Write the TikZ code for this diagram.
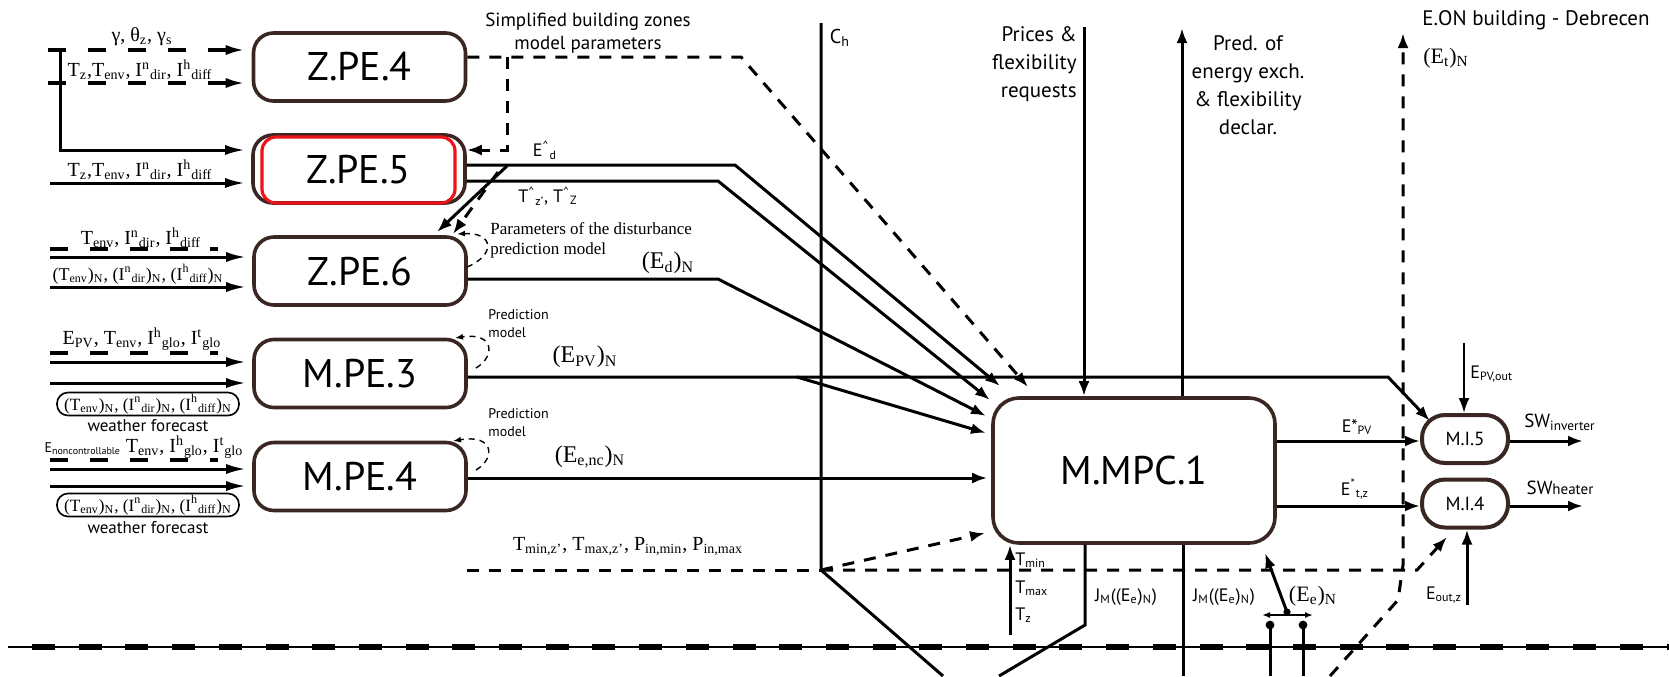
\documentclass[tikz,border=0pt]{standalone}
\usepackage{fontspec}
\setmainfont{Liberation Serif}
\setsansfont{PT Sans}
\usetikzlibrary{arrows.meta}
\definecolor{boxbrown}{RGB}{58,38,34}
\definecolor{hlred}{RGB}{235,20,25}
\newcommand\sbs[1]{\textsubscript{#1}}
\newcommand\sps[1]{\textsuperscript{#1}}
\newcommand\fsz[2]{\fontsize{#1}{#2}\selectfont}
\begin{document}
\begin{tikzpicture}[x=0.5pt,y=-0.5pt,
  blk/.style={draw=boxbrown, fill=white, line width=1.8pt, rounded corners=10pt,
    minimum width=106pt, minimum height=34pt, inner sep=0pt, font=\sffamily\fsz{20}{24}},
  hilite/.style={draw=hlred, line width=1.6pt, rounded corners=7pt,
    minimum width=96.5pt, minimum height=33pt, inner sep=0pt, font=\sffamily\fsz{20}{24}},
  pill/.style={draw=boxbrown, fill=white, line width=2pt, rounded corners=11.5pt,
    minimum width=43pt, minimum height=24pt, inner sep=0pt, font=\sffamily\fsz{9.5}{11}},
  wire/.style={line width=1.5pt},
  arr/.style={wire, -{Latex[length=7.5pt,width=5.5pt]}},
  inarr/.style={wire, -{Latex[length=10pt,width=5pt]}, shorten >=3pt},
  dwire/.style={line width=1.5pt, dash pattern=on 6pt off 5pt},
  darr/.style={dwire, -{Latex[length=7.5pt,width=5.5pt]}},
  indash/.style={line width=1.8pt, dash pattern=on 9pt off 11pt},
  indarr/.style={indash, -{Latex[length=10pt,width=5pt]}, shorten >=3pt},
  loopd/.style={line width=0.7pt, dash pattern=on 3pt off 2.5pt, -{Latex[length=4pt,width=3pt]}},
  lblser/.style={inner sep=0pt, font=\fsz{10}{12}},
  lblsans/.style={inner sep=0pt, font=\sffamily\fsz{9}{11}},
  wfbox/.style={draw, line width=0.8pt, rounded corners=5.5pt, minimum width=91pt,
    minimum height=11.5pt, inner sep=0pt, font=\fsz{8.6}{10}},
  wftext/.style={inner sep=0pt, font=\sffamily\fsz{8.5}{10}}
]
\useasboundingbox (0,0) rectangle (1669,676);
\fill[white] (0,0) rectangle (1669,676);

% ---------- processing blocks ----------
\node[blk] (zpe4) at (359.5,67) {Z.PE.4};
\node[blk] (zpe5) at (359,169) {};
\node[hilite] (zpe5mark) at (358.5,170) {Z.PE.5};
\node[blk] (zpe6) at (360,271) {Z.PE.6};
\node[blk] (mpe3) at (360,373.5) {M.PE.3};
\node[blk] (mpe4) at (360,476.5) {M.PE.4};
\node[blk, minimum width=141pt, minimum height=72.5pt, rounded corners=13pt] (mpc) at (1134,470.5) {M.MPC.1};
\node[pill] (mi5) at (1465,439) {M.I.5};
\node[pill] (mi4) at (1465,503.5) {M.I.4};

% ---------- inputs on the left ----------
\coordinate (s1) at (48,50);
\coordinate (s2) at (48,83);
\draw[indarr] (s1) -- (s1 -| zpe4.west);
\draw[indarr] (s2) -- (s2 -| zpe4.west);
\node[lblser] (l1) at (142,37) {γ, θ\sbs{z}, γ\sbs{s}};
\node[lblser] (l2) at (140,70) {T\sbs{z},T\sbs{env}, I\sps{n}\sbs{dir}, I\sps{h}\sbs{diff}};

\coordinate (v3a) at (60,52);
\coordinate (v3b) at (60,150);
\draw[inarr] (v3a) -- (v3b) -- (v3b -| zpe5.west);
\coordinate (s4) at (50,183);
\draw[inarr] (s4) -- (s4 -| zpe5.west);
\node[lblser] (l4) at (140,170) {T\sbs{z},T\sbs{env}, I\sps{n}\sbs{dir}, I\sps{h}\sbs{diff}};

% Z.PE.6 inputs
\coordinate (d6a) at (50,249); \coordinate (d6b) at (218,249);
\draw[indash] (d6a) -- (d6b);
\node[lblser] (l6a) at (141,238) {T\sbs{env}, I\sps{n}\sbs{dir}, I\sps{h}\sbs{diff}};
\coordinate (s6a) at (50,257);
\draw[inarr] (s6a) -- (s6a -| zpe6.west);
\node[lblser, font=\fsz{9}{11}] (l6b) at (138,274) {(T\sbs{env})\sbs{N}, (I\sps{n}\sbs{dir})\sbs{N}, (I\sps{h}\sbs{diff})\sbs{N}};
\coordinate (s6b) at (50,287);
\draw[inarr] (s6b) -- (s6b -| zpe6.west);

% M.PE.3 inputs
\node[lblser] (l3a) at (142,339) {E\sbs{PV}, T\sbs{env}, I\sps{h}\sbs{glo}, I\sps{t}\sbs{glo}};
\coordinate (d3a) at (50,353); \coordinate (d3b) at (218,353);
\draw[indash] (d3a) -- (d3b);
\coordinate (s3a) at (50,362);
\draw[inarr] (s3a) -- (s3a -| mpe3.west);
\coordinate (s3b) at (50,383);
\draw[inarr] (s3b) -- (s3b -| mpe3.west);
\node[wfbox] (wf3) at (148,404) {(T\sbs{env})\sbs{N}, (I\sps{n}\sbs{dir})\sbs{N}, (I\sps{h}\sbs{diff})\sbs{N}};
\node[wftext] (wf3t) at (148,426) {weather forecast};

% M.PE.4 inputs
\node[lblser] (l4a) at (144,447) {{\sffamily\fsz{7}{8}E\sbs{noncontrollable}} T\sbs{env}, I\sps{h}\sbs{glo}, I\sps{t}\sbs{glo}};
\coordinate (d4a) at (50,460); \coordinate (d4b) at (218,460);
\draw[indash] (d4a) -- (d4b);
\coordinate (s4a) at (50,469);
\draw[inarr] (s4a) -- (s4a -| mpe4.west);
\coordinate (s4b) at (50,486);
\draw[inarr] (s4b) -- (s4b -| mpe4.west);
\node[wfbox] (wf4) at (148,505) {(T\sbs{env})\sbs{N}, (I\sps{n}\sbs{dir})\sbs{N}, (I\sps{h}\sbs{diff})\sbs{N}};
\node[wftext] (wf4t) at (148,528) {weather forecast};

% ---------- model parameters from Z.PE.4 ----------
\node[lblsans, align=center, font=\sffamily\fsz{9.5}{11.5}] (simp) at (588,33) {Simplified building zones\\model parameters};
\coordinate (p4a) at (741,57);
\coordinate (p4t) at (1028,387);
\draw[darr] (p4a -| zpe4.east) -- (p4a) -- (p4t);
\coordinate (br1) at (507,57);
\coordinate (br2) at (507,150);
\draw[darr] (br1) -- (br2) -- (br2 -| zpe5.east);

% ---------- Z.PE.5 outputs ----------
\coordinate (ed1) at (735,165);
\coordinate (edt) at (1000,386);
\draw[arr] (ed1 -| zpe5.east) -- (ed1) -- (edt);
\node[lblsans] (edl) at (545,150) {E\sps{\^{}}\sbs{d}};
\coordinate (tz1) at (718,181);
\coordinate (tzt) at (990,400);
\draw[arr] (tz1 -| zpe5.east) -- (tz1) -- (tzt);
\node[lblsans] (tzl) at (548,196) {T\sps{\^{}}\sbs{z'}, T\sps{\^{}}\sbs{Z}};

% feedback to Z.PE.6
\coordinate (fb1) at (507,166); \coordinate (fb1t) at (437,232);
\coordinate (fb2) at (498,172); \coordinate (fb2t) at (453,234);
\draw[arr] (fb1) -- (fb1t);
\draw[darr] (fb2) -- (fb2t);
\node[inner sep=0pt, anchor=west, align=left, font=\fsz{8.5}{10}] (parl) at (490,240) {Parameters of the disturbance\\prediction model};
\draw[loopd] (467,267) .. controls (496,255) and (494,232) .. (457,234);

% ---------- Z.PE.6 output ----------
\coordinate (dn1) at (718,279);
\coordinate (dnt) at (986,416);
\draw[arr] (dn1 -| zpe6.east) -- (dn1) -- (dnt);
\node[lblser, font=\fsz{12}{14}] (dnl) at (668,263) {(E\sbs{d})\sbs{N}};

% ---------- M.PE.3 output ----------
\node[lblsans, align=left, anchor=west, font=\sffamily\fsz{7}{9}] (pm3) at (488,324) {Prediction\\model};
\draw[loopd] (476,368) .. controls (496,356) and (494,332) .. (455,338);
\coordinate (pv1) at (1388,377);
\coordinate (pvt) at (1430,421);
\draw[arr] (pv1 -| mpe3.east) -- (pv1) -- (pvt);
\coordinate (pvb) at (797,377);
\coordinate (pvbt) at (986,433);
\draw[arr] (pvb) -- (pvbt);
\node[lblser, font=\fsz{12}{14}] (pvl) at (585,357) {(E\sbs{PV})\sbs{N}};

% ---------- M.PE.4 output ----------
\node[lblsans, align=left, anchor=west, font=\sffamily\fsz{7}{9}] (pm4) at (488,423) {Prediction\\model};
\draw[loopd] (476,470) .. controls (496,458) and (494,434) .. (453,441);
\coordinate (nc) at (700,478);
\draw[arr, shorten >=2pt] (nc -| mpe4.east) -- (nc -| mpc.west);
\node[lblser, font=\fsz{12}{14}] (ncl) at (590,457) {(E\sbs{e,nc})\sbs{N}};

% ---------- comfort limits and C_h ----------
\coordinate (ch1) at (821,23);
\coordinate (ch2) at (821,570);
\coordinate (ch3) at (943,676);
\draw[wire] (ch1) -- (ch2) -- (ch3);
\node[lblsans, font=\sffamily\fsz{10}{12}] (chl) at (840,38) {C\sbs{h}};
\coordinate (tm0) at (467,570);
\coordinate (tmt) at (985,533);
\coordinate (tmr) at (1417,570);
\coordinate (tmr2) at (1447,537);
\draw[dwire] (tm0) -- (ch2);
\draw[darr] (ch2) -- (tmt);
\draw[darr] (ch2) -- (tmr) -- (tmr2);
\node[lblser] (tml) at (628,547) {T\sbs{min,z'}, T\sbs{max,z'}, P\sbs{in,min}, P\sbs{in,max}};

% ---------- aggregator side ----------
\coordinate (pr) at (1084,27);
\draw[arr] (pr) -- (pr |- mpc.north);
\node[inner sep=0pt, anchor=east, align=right, font=\sffamily\fsz{10.5}{14}] (prl) at (1077,64) {Prices \&\\flexibility\\requests};
\coordinate (pd) at (1182,28);
\draw[arr] (pd |- mpc.north) -- (pd);
\node[inner sep=0pt, align=center, font=\sffamily\fsz{10.5}{14}] (pdl) at (1248,85) {Pred. of\\energy exch.\\\& flexibility\\declar.};
\coordinate (et0) at (1330,676);
\coordinate (et1) at (1398,600);
\coordinate (et2) at (1403,565);
\coordinate (et3) at (1403,33);
\draw[darr] (et0) -- (et1) -- (et2) -- (et3);
\node[lblser, font=\fsz{11}{13}] (etl) at (1446,58) {(E\sbs{t})\sbs{N}};
\node[inner sep=0pt, font=\sffamily\fsz{10.5}{12}] (eon) at (1536,20) {E.ON building - Debrecen};

% ---------- MPC outputs to the actuators ----------
\coordinate (y5) at (1300,441);
\draw[arr] (y5 -| mpc.east) -- (y5 -| mi5.west);
\node[lblsans] (epvl) at (1357,427) {E*\sbs{PV}};
\coordinate (y4) at (1300,506);
\draw[arr] (y4 -| mpc.east) -- (y4 -| mi4.west);
\node[lblsans] (etzl) at (1355,489) {E\sps{*}\sbs{t,z}};
\coordinate (sw5) at (1583,441);
\draw[arr] (sw5 -| mi5.east) -- (sw5);
\node[lblsans, font=\sffamily\fsz{9.5}{11}] (sw5l) at (1560,422) {SW\sbs{inverter}};
\coordinate (sw4) at (1583,506);
\draw[arr] (sw4 -| mi4.east) -- (sw4);
\node[lblsans, font=\sffamily\fsz{9.5}{11}] (sw4l) at (1560,488) {SW{\fsz{7.5}{9}heater}};
\coordinate (epo) at (1464,343);
\draw[arr, line width=1.1pt] (epo) -- (epo |- mi5.north);
\node[lblsans, anchor=west] (epol) at (1470,374) {E\sbs{PV,out}};
\coordinate (eoz) at (1467,605);
\draw[arr] (eoz) -- (eoz |- mi4.south);
\node[lblsans] (eozl) at (1444,595) {E\sbs{out,z}};

% ---------- below the MPC block ----------
\coordinate (tmn) at (1010,635);
\draw[arr] (tmn) -- (tmn |- mpc.south);
\node[lblsans, anchor=west] (tminl) at (1015,560) {T\sbs{min}};
\node[lblsans, anchor=west] (tmaxl) at (1015,588) {T\sbs{max}};
\node[lblsans, anchor=west] (tzzl) at (1015,615) {T\sbs{z}};
\coordinate (j1) at (1085,625);
\coordinate (j1e) at (999,676);
\draw[wire] (j1 |- mpc.south) -- (j1) -- (j1e);
\node[lblsans] (j1l) at (1126,597) {J\sbs{M}((E\sbs{e})\sbs{N})};
\coordinate (j2) at (1183,676);
\draw[wire] (j2 |- mpc.south) -- (j2);
\node[lblsans] (j2l) at (1224,597) {J\sbs{M}((E\sbs{e})\sbs{N})};
\coordinate (ee) at (1287,612);
\coordinate (eet) at (1265,553);
\draw[arr] (ee) -- (eet);
\fill (ee) circle (1.8pt);
\node[lblser, font=\fsz{11}{13}] (eel) at (1313,596) {(E\sbs{e})\sbs{N}};
\coordinate (bl) at (1262,615); \coordinate (brr) at (1313,615);
\draw[line width=1pt, {Latex[length=4pt,width=3pt]}-{Latex[length=4pt,width=3pt]}] (bl) -- (brr);
\coordinate (c1) at (1270,625); \coordinate (c2) at (1303,625);
\coordinate (c1e) at (1270,676); \coordinate (c2e) at (1303,676);
\fill (c1) circle (2.2pt); \fill (c2) circle (2.2pt);
\draw[wire] (c1) -- (c1e);
\draw[wire] (c2) -- (c2e);

% ---------- system boundary ----------
\coordinate (bd0) at (8,647); \coordinate (bd1) at (1669,647); \coordinate (bd2) at (32,647);
\draw[line width=0.7pt] (bd0) -- (bd1);
\draw[line width=3pt, dash pattern=on 11.5pt off 11.85pt] (bd2) -- (bd1);
\end{tikzpicture}
\end{document}
